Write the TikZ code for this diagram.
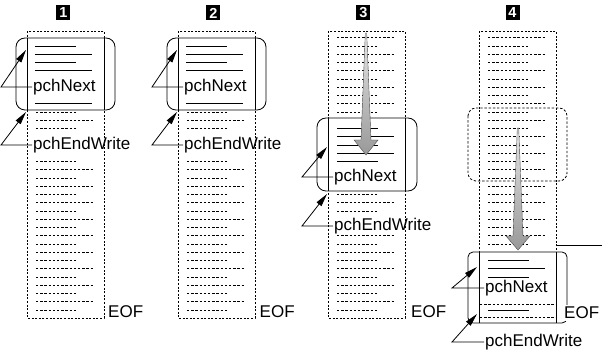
\documentclass[tikz,border=0pt]{standalone}
\usepackage{fontspec}
\setmainfont{Liberation Sans}
\usetikzlibrary{arrows.meta}
\newcommand{\filerows}[3]{%
  \foreach \k in {#2}{%
    \pgfmathsetmacro\rowy{46+8.25*\k}%
    \pgfmathsetmacro\rowlen{ifthenelse(mod(\k+10,2)==1,57,41)}%
    \draw[#3] (#1+9,\rowy) -- ++(\rowlen,0);
  }}
\tikzset{
  colbox/.style={line width=0.8pt, dash pattern=on 2pt off 1.6pt},
  dotrow/.style={line width=0.8pt, dash pattern=on 2.4pt off 1.8pt},
  solidrow/.style={line width=0.8pt},
  bufbox/.style={line width=0.8pt, rounded corners=9pt, fill=white},
  ghostbox/.style={line width=0.8pt, rounded corners=8pt, dash pattern=on 2.4pt off 1.8pt},
  lbl/.style={anchor=west, inner sep=1pt, font=\fontsize{17}{17}\selectfont},
  eof/.style={anchor=west, inner sep=1.5pt, font=\fontsize{17}{17}\selectfont},
  hdr/.style={fill=black, text=white, inner sep=0pt, minimum width=14pt, minimum height=15pt,
    font=\fontsize{14.5}{14.5}\selectfont\bfseries},
  leader/.style={line width=0.8pt, -{Triangle[length=13pt,width=6pt]}},
  bigarrow/.style={top color=gray!20, bottom color=gray!80, draw=black!70, line width=0.4pt}
}
\begin{document}
\begin{tikzpicture}[x=1pt,y=-1pt]
\useasboundingbox (0,0) rectangle (602,352);

% ---------- Panel 1 ----------
\node[hdr] (h1) at (63.3,13) {1};
\draw[colbox] (27,31) rectangle (104,318);
\filerows{27}{8,9,10,14,15,...,32}{dotrow}
\draw[bufbox] (16,38) rectangle (115,110);
\draw[solidrow] (27,38) -- (27,110) (104,38) -- (104,110);
\filerows{26}{0,1,2,3,7}{solidrow}
\node[lbl] (n1) at (32,87) {pchNext};
\node[lbl] (e1) at (32,145) {pchEndWrite};
\node[eof] (f1) at (106.5,312) {EOF};
\coordinate (n1c) at (1,87); \coordinate (n1t) at (26,50);
\coordinate (e1c) at (1,145); \coordinate (e1t) at (26,112);
\draw[leader] (n1.west) -- (n1c) -- (n1t);
\draw[leader] (e1.west) -- (e1c) -- (e1t);

% ---------- Panel 2 ----------
\node[hdr] (h2) at (213.3,13) {2};
\draw[colbox] (178,31) rectangle (255,318);
\filerows{178}{8,9,10,14,15,...,32}{dotrow}
\draw[bufbox] (167,38) rectangle (266,110);
\draw[solidrow] (178,38) -- (178,110) (255,38) -- (255,110);
\filerows{177}{0,1,2,3,7}{solidrow}
\node[lbl] (n2) at (183,87) {pchNext};
\node[lbl] (e2) at (183,145) {pchEndWrite};
\node[eof] (f2) at (258,312) {EOF};
\coordinate (n2c) at (152,87); \coordinate (n2t) at (177,50);
\coordinate (e2c) at (152,145); \coordinate (e2t) at (177,112);
\draw[leader] (n2.west) -- (n2c) -- (n2t);
\draw[leader] (e2.west) -- (e2c) -- (e2t);

% ---------- Panel 3 ----------
\node[hdr] (h3) at (363.3,13) {3};
\draw[colbox] (328,31) rectangle (405,318);
\filerows{328}{-1,0,...,8,18,19,20,23,24,...,32}{dotrow}
\draw[bufbox] (317,118) rectangle (417,191);
\draw[solidrow] (328,118) -- (328,191) (405,118) -- (405,191);
\filerows{328}{10,11,12,13,14}{solidrow}
\shade[bigarrow] (365.3,33) -- (361,140) -- (354,140) -- (366,155) -- (378,140) -- (371,140) -- (366.7,33) -- cycle;
\node[lbl] (n3) at (333,177) {pchNext};
\node[lbl] (e3) at (333,226) {pchEndWrite};
\node[eof] (f3) at (409.5,312) {EOF};
\coordinate (n3c) at (302,177); \coordinate (n3t) at (327,147);
\coordinate (e3c) at (302,226); \coordinate (e3t) at (327,194);
\draw[leader] (n3.west) -- (n3c) -- (n3t);
\draw[leader] (e3.west) -- (e3c) -- (e3t);

% ---------- Panel 4 ----------
\node[hdr] (h4) at (512.5,13) {4};
\draw[colbox] (479,31) rectangle (556,318);
\filerows{479}{-1,0,...,24}{dotrow}
\draw[ghostbox] (468,108) rectangle (567,181);
\shade[bigarrow] (517.3,128) -- (513,236) -- (506,236) -- (518,250) -- (530,236) -- (523,236) -- (518.7,128) -- cycle;
\coordinate (m4a) at (556,245); \coordinate (m4b) at (602,245);
\draw[solidrow] (m4a) -- (m4b);
\draw[bufbox, rounded corners=5pt] (468,252) rectangle (567,323);
\draw[solidrow] (479,252) -- (479,323) (556,252) -- (556,323);
\filerows{479}{26,27,28}{solidrow}
\draw[dotrow] (480,304) -- (556,304) (480,317) -- (556,317);
\draw[solidrow] (488,310) -- (529,310);
\node[lbl] (n4) at (484,288) {pchNext};
\node[lbl] (e4) at (484,342) {pchEndWrite};
\node[eof, fill=white] (f4) at (562.5,313) {EOF};
\coordinate (n4c) at (452,288); \coordinate (n4t) at (477,267);
\coordinate (e4c) at (452,342); \coordinate (e4t) at (477,314);
\draw[leader] (n4.west) -- (n4c) -- (n4t);
\draw[leader] (e4.west) -- (e4c) -- (e4t);
\end{tikzpicture}
\end{document}
